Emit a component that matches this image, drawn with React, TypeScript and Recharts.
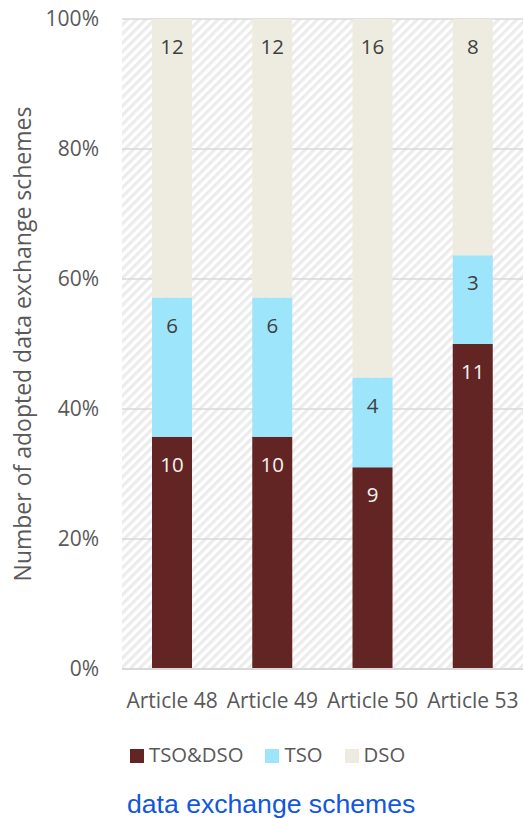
import React from 'react';
import { BarChart, Bar, XAxis, YAxis, CartesianGrid, LabelList } from 'recharts';

const categories = ['Article 48', 'Article 49', 'Article 50', 'Article 53'];
const tsoDsoValues = [10, 10, 9, 11];
const tsoValues = [6, 6, 4, 3];
const dsoValues = [12, 12, 16, 8];
const yTicks = [0, 0.2, 0.4, 0.6, 0.8, 1];
const yTickLabels = ['0%', '20%', '40%', '60%', '80%', '100%'];

const seriesNames = ['TSO&DSO', 'TSO', 'DSO'];
const seriesKeys = ['tsoDso', 'tso', 'dso'];
const seriesColors = ['#632523', '#9de5fb', '#eeece1'];
const labelColors = ['#f2f2f2', '#404040', '#404040'];

const data = categories.map((c, i) => ({
  name: c,
  tsoDso: tsoDsoValues[i],
  tso: tsoValues[i],
  dso: dsoValues[i],
}));

const FONT = '"Open Sans", "Noto Sans", sans-serif';

const makeLabel = (color: string) => (props: any) => {
  const { x, y, width, value } = props;
  return (
    <text
      x={Number(x) + Number(width) / 2}
      y={Number(y) + 35}
      textAnchor="middle"
      fill={color}
      fontSize={20.5}
      fontFamily={FONT}
    >
      {value}
    </text>
  );
};

export default function App() {
  return (
    <div style={{ position: 'absolute', left: 0, top: 0, width: 524, height: 818, background: '#fff' }}>
      <svg width={0} height={0} style={{ position: 'absolute' }}>
        <defs>
          <pattern id="hatch" patternUnits="userSpaceOnUse" width={6.4} height={6.4} patternTransform="rotate(45)">
            <rect x={0} y={0} width={3.2} height={6.4} fill="#ececec" />
          </pattern>
        </defs>
      </svg>
      <BarChart
        width={524}
        height={719}
        data={data}
        stackOffset="expand"
        margin={{ top: 19, right: 1, bottom: 0, left: 0 }}
        barSize={40}
      >
        <CartesianGrid
          vertical={false}
          stroke="#d9d9d9"
          strokeWidth={1.5}
          fill="url(#hatch)"
          fillOpacity={1}
        />
        <XAxis
          dataKey="name"
          height={50}
          tickLine={false}
          tickSize={0}
          tickMargin={24}
          axisLine={{ stroke: '#d9d9d9', strokeWidth: 2 }}
          tick={{ fill: '#595959', fontSize: 21, fontFamily: FONT }}
          interval={0}
        />
        <YAxis
          width={122}
          domain={[0, 1]}
          ticks={yTicks}
          tickFormatter={(v: number) => yTickLabels[yTicks.indexOf(v)] ?? ''}
          tickLine={false}
          axisLine={false}
          tickSize={0}
          tickMargin={23}
          tick={{ fill: '#595959', fontSize: 21, fontFamily: FONT }}
          label={{
            value: 'Number of adopted data exchange schemes',
            angle: -90,
            position: 'insideLeft',
            offset: 23,
            style: { textAnchor: 'middle', fill: '#595959', fontSize: 23, fontFamily: FONT },
          }}
        />
        {seriesKeys.map((k, i) => (
          <Bar key={k} dataKey={k} name={seriesNames[i]} stackId="a" fill={seriesColors[i]} isAnimationActive={false}>
            <LabelList dataKey={k} content={makeLabel(labelColors[i])} />
          </Bar>
        ))}
      </BarChart>
      <div
        style={{
          position: 'absolute',
          left: 130,
          top: 744,
          display: 'flex',
          alignItems: 'center',
          fontFamily: FONT,
          fontSize: 20.3,
          lineHeight: '20px',
          color: '#595959',
          whiteSpace: 'nowrap',
        }}
      >
        {seriesNames.map((n, i) => (
          <div key={n} style={{ display: 'flex', alignItems: 'center', marginRight: 22 }}>
            <div style={{ width: 14, height: 14, background: seriesColors[i], marginRight: 5, marginTop: 4 }} />
            <span>{n}</span>
          </div>
        ))}
      </div>
      <div
        style={{
          position: 'absolute',
          left: 127,
          top: 791,
          fontFamily: '"Liberation Sans", Arial, sans-serif',
          fontSize: 26.6,
          lineHeight: '26px',
          color: '#1257dc',
          whiteSpace: 'nowrap',
        }}
      >
        data exchange schemes
      </div>
    </div>
  );
}
